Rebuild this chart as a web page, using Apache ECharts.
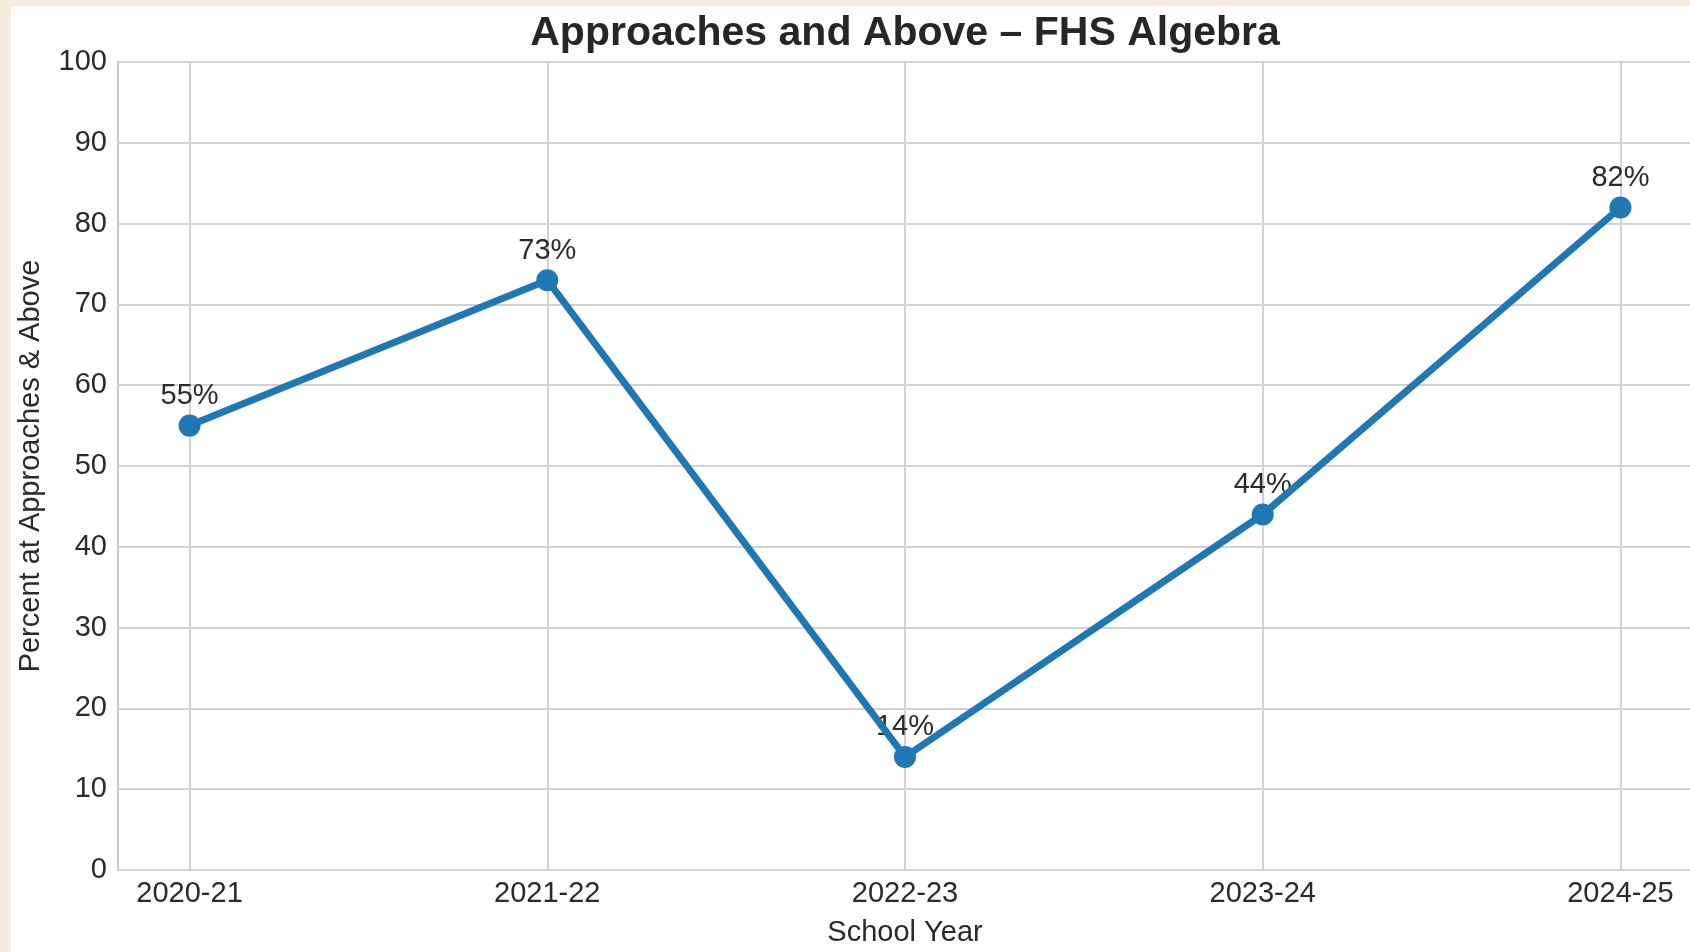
<!DOCTYPE html>
<html>
<head>
<meta charset="utf-8">
<title>Approaches and Above – FHS Algebra</title>
<script src="https://cdn.jsdelivr.net/npm/echarts@6/dist/echarts.min.js"></script>
<style>
  html, body { margin: 0; padding: 0; width: 1690px; height: 952px; background: #f8ece1; overflow: hidden; }
  #chart { position: absolute; left: 11px; top: 6px; width: 1679px; height: 946px; background: #ffffff; }
</style>
</head>
<body>
<div id="chart"></div>
<script>
// School years on the horizontal axis
const schoolYears = ['2020-21', '2021-22', '2022-23', '2023-24', '2024-25'];
// Percent of students at Approaches and above
const percentApproaches = [55, 73, 14, 44, 82];
// Vertical axis ticks
const yTicks = [0, 10, 20, 30, 40, 50, 60, 70, 80, 90, 100];

const textColor = '#2a2a2a';
const gridColor = '#d2d2d2';
const lineColor = '#1f77b4';
const font = 'Liberation Sans, Arial, sans-serif';

const points = percentApproaches.map((v, i) => [i, v]);
const yearIndex = schoolYears.map((_, i) => i);

const chart = echarts.init(document.getElementById('chart'), null, { renderer: 'canvas' });
chart.setOption({
  animation: false,
  textStyle: { fontFamily: font },
  title: {
    text: 'Approaches and Above – FHS Algebra',
    left: 889,
    textAlign: 'center',
    top: 2,
    textStyle: { fontSize: 41, fontWeight: 'bold', color: '#262626', fontFamily: font, lineHeight: 41 }
  },
  grid: {
    left: 107, top: 56, width: 1574, bottom: 82,
    outerBoundsMode: 'none',
    containLabel: false,
    show: true, borderColor: '#c9c9c9', borderWidth: 2, backgroundColor: 'transparent'
  },
  xAxis: {
    type: 'value',
    min: -0.2, max: 4.2,
    axisLine: { show: false },
    axisTick: { show: false, customValues: yearIndex },
    axisLabel: {
      customValues: yearIndex,
      formatter: v => schoolYears[Math.round(v)] || '',
      fontSize: 29, color: textColor, margin: 9, fontFamily: font
    },
    splitLine: { show: true, lineStyle: { color: gridColor, width: 2 } },
    name: 'School Year',
    nameLocation: 'middle',
    nameGap: 48,
    nameTextStyle: { fontSize: 29, color: textColor, fontFamily: font }
  },
  yAxis: {
    type: 'value',
    min: yTicks[0], max: yTicks[yTicks.length - 1], interval: yTicks[1] - yTicks[0],
    axisLine: { show: false },
    axisTick: { show: false },
    axisLabel: { fontSize: 29, color: textColor, margin: 11, fontFamily: font },
    splitLine: { show: true, lineStyle: { color: gridColor, width: 2 } },
    name: 'Percent at Approaches & Above',
    nameLocation: 'middle',
    nameGap: 73,
    nameTextStyle: { fontSize: 29, color: textColor, fontFamily: font }
  },
  series: [
    {
      // value labels, drawn beneath the line
      type: 'scatter',
      z: 1,
      data: points,
      symbolSize: 22,
      itemStyle: { color: 'transparent', opacity: 1 },
      label: {
        show: true, position: 'top', distance: 4, opacity: 1,
        formatter: p => p.value[1] + '%',
        fontSize: 29, color: textColor, fontFamily: font
      },
      emphasis: { disabled: true },
      silent: true
    },
    {
      type: 'line',
      z: 3,
      data: points,
      symbol: 'circle',
      symbolSize: 22,
      lineStyle: { color: lineColor, width: 7 },
      itemStyle: { color: lineColor },
      label: { show: false }
    }
  ]
});
</script>
</body>
</html>
